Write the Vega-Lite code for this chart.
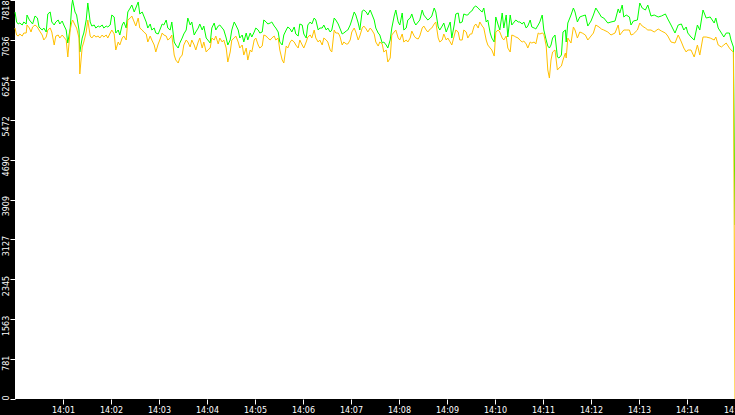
{
"$schema":"https://vega.github.io/schema/vega-lite/v6.json",
"width":720,"height":399,
"autosize":{"type":"none"},
"padding":{"left":15,"top":0,"right":0,"bottom":16},
"background":"#000000",
"view":{"fill":"#ffffff","stroke":null},
"config":{"axis":{"labelFont":"DejaVu Sans","labelFontSize":8,"labelColor":"#ffffff","tickColor":"#ffffff","domain":false,"grid":false,"title":null,"labelOverlap":false,"labelFlush":false,"labelBound":false}},
"data":{"values":[
{"t":0,"g":7583,"o":7269},{"t":2,"g":7387,"o":7132},{"t":4,"g":7348,"o":7112},{"t":6,"g":7367,"o":7152},{"t":9,"g":7328,"o":7112},{"t":11,"g":7387,"o":7171},{"t":14,"g":7348,"o":7171},{"t":15,"g":7524,"o":7328},{"t":18,"g":7426,"o":7269},{"t":20,"g":7387,"o":7191},{"t":22,"g":7348,"o":7289},{"t":25,"g":7504,"o":7328},{"t":28,"g":7465,"o":7289},{"t":30,"g":7289,"o":7230},{"t":34,"g":7230,"o":7132},{"t":36,"g":7269,"o":7034},{"t":39,"g":7191,"o":7093},{"t":41,"g":7544,"o":7230},{"t":44,"g":7583,"o":7269},{"t":46,"g":7387,"o":7191},{"t":49,"g":7328,"o":6936},{"t":51,"g":7387,"o":7112},{"t":54,"g":7426,"o":7132},{"t":56,"g":7348,"o":7073},{"t":59,"g":7406,"o":7132},{"t":61,"g":7328,"o":7093},{"t":64,"g":7230,"o":7034},{"t":66,"g":6975,"o":6701},{"t":69,"g":7269,"o":7230},{"t":71,"g":7720,"o":7387},{"t":72,"g":7818,"o":7426},{"t":75,"g":7583,"o":7328},{"t":77,"g":7524,"o":7269},{"t":80,"g":7230,"o":7073},{"t":81,"g":6799,"o":6368},{"t":84,"g":7073,"o":6897},{"t":86,"g":7171,"o":6995},{"t":89,"g":7426,"o":7191},{"t":91,"g":7759,"o":7426},{"t":94,"g":7387,"o":7112},{"t":96,"g":7308,"o":7073},{"t":99,"g":7328,"o":7132},{"t":101,"g":7269,"o":7093},{"t":104,"g":7308,"o":7112},{"t":106,"g":7289,"o":7073},{"t":109,"g":7328,"o":7132},{"t":111,"g":7269,"o":7093},{"t":114,"g":7308,"o":7132},{"t":116,"g":7289,"o":7073},{"t":119,"g":7328,"o":7171},{"t":121,"g":7524,"o":7230},{"t":124,"g":7485,"o":7152},{"t":126,"g":7171,"o":6838},{"t":129,"g":7230,"o":6995},{"t":131,"g":7132,"o":6936},{"t":134,"g":7328,"o":7073},{"t":136,"g":7387,"o":7112},{"t":139,"g":7269,"o":7034},{"t":141,"g":7583,"o":7426},{"t":144,"g":7661,"o":7465},{"t":146,"g":7720,"o":7504},{"t":149,"g":7583,"o":7387},{"t":151,"g":7661,"o":7308},{"t":154,"g":7779,"o":7465},{"t":156,"g":7544,"o":7269},{"t":159,"g":7583,"o":7230},{"t":161,"g":7504,"o":7191},{"t":164,"g":7387,"o":7152},{"t":166,"g":7269,"o":6995},{"t":169,"g":7348,"o":7112},{"t":171,"g":7230,"o":7034},{"t":174,"g":7269,"o":6936},{"t":176,"g":7171,"o":6799},{"t":179,"g":7152,"o":6956},{"t":181,"g":7230,"o":7034},{"t":184,"g":7348,"o":7171},{"t":186,"g":7328,"o":7132},{"t":189,"g":7426,"o":7112},{"t":191,"g":7269,"o":7034},{"t":194,"g":7230,"o":7073},{"t":196,"g":7387,"o":7132},{"t":199,"g":6995,"o":6740},{"t":201,"g":6936,"o":6642},{"t":204,"g":6877,"o":6583},{"t":206,"g":6975,"o":6681},{"t":209,"g":7073,"o":6740},{"t":211,"g":7152,"o":6936},{"t":214,"g":7230,"o":7034},{"t":216,"g":7465,"o":6995},{"t":219,"g":7328,"o":6897},{"t":221,"g":7387,"o":7034},{"t":224,"g":7132,"o":6936},{"t":226,"g":7191,"o":6838},{"t":229,"g":7269,"o":6995},{"t":231,"g":7348,"o":7073},{"t":234,"g":7230,"o":6877},{"t":236,"g":7308,"o":6995},{"t":239,"g":7073,"o":6799},{"t":241,"g":7034,"o":6838},{"t":244,"g":6975,"o":6877},{"t":246,"g":7269,"o":7073},{"t":249,"g":7367,"o":7034},{"t":251,"g":7230,"o":7112},{"t":254,"g":7308,"o":6956},{"t":256,"g":7328,"o":7073},{"t":259,"g":7269,"o":6995},{"t":261,"g":7230,"o":7034},{"t":264,"g":7073,"o":6877},{"t":266,"g":6936,"o":6603},{"t":269,"g":7034,"o":6799},{"t":271,"g":7230,"o":7034},{"t":274,"g":7387,"o":7073},{"t":276,"g":7328,"o":7112},{"t":279,"g":7230,"o":6995},{"t":281,"g":7073,"o":6877},{"t":284,"g":7132,"o":6936},{"t":286,"g":6995,"o":6740},{"t":289,"g":7171,"o":6877},{"t":291,"g":7034,"o":6642},
{"t":294,"g":7171,"o":6838},{"t":296,"g":7093,"o":6799},{"t":299,"g":7191,"o":7034},{"t":301,"g":7269,"o":7073},{"t":304,"g":7230,"o":6936},{"t":306,"g":7171,"o":6877},{"t":309,"g":7191,"o":6916},{"t":311,"g":7426,"o":7132},{"t":314,"g":7387,"o":7112},{"t":316,"g":7348,"o":7073},{"t":319,"g":7367,"o":7034},{"t":321,"g":7387,"o":7073},{"t":324,"g":7308,"o":7112},{"t":326,"g":7269,"o":7034},{"t":329,"g":7191,"o":7073},{"t":331,"g":6995,"o":6838},{"t":334,"g":6936,"o":6642},{"t":336,"g":7132,"o":6583},{"t":339,"g":7230,"o":6916},{"t":341,"g":7289,"o":6877},{"t":344,"g":7250,"o":6995},{"t":346,"g":7191,"o":7034},{"t":349,"g":7289,"o":6995},{"t":351,"g":7152,"o":6936},{"t":354,"g":7112,"o":6877},{"t":356,"g":7348,"o":7034},{"t":359,"g":7328,"o":6936},{"t":361,"g":7152,"o":6877},{"t":364,"g":7073,"o":6995},{"t":366,"g":7328,"o":7093},{"t":369,"g":7387,"o":7132},{"t":371,"g":7348,"o":7073},{"t":374,"g":7465,"o":7230},{"t":376,"g":7426,"o":7073},{"t":379,"g":7230,"o":6995},{"t":381,"g":7269,"o":7034},{"t":384,"g":7269,"o":6936},{"t":386,"g":7328,"o":7073},{"t":389,"g":7230,"o":7034},{"t":391,"g":7269,"o":6995},{"t":394,"g":7191,"o":6838},{"t":396,"g":7230,"o":6799},{"t":399,"g":7465,"o":7230},{"t":401,"g":7426,"o":7171},{"t":404,"g":7348,"o":7171},{"t":406,"g":7269,"o":7112},{"t":409,"g":7152,"o":6936},{"t":411,"g":7171,"o":6995},{"t":414,"g":7210,"o":6956},{"t":416,"g":7230,"o":6956},{"t":419,"g":7328,"o":7034},{"t":421,"g":7426,"o":7191},{"t":424,"g":7583,"o":7269},
{"t":426,"g":7524,"o":7191},{"t":429,"g":7367,"o":7034},{"t":431,"g":7230,"o":7112},{"t":434,"g":7602,"o":7269},{"t":436,"g":7622,"o":7308},{"t":439,"g":7583,"o":7250},{"t":441,"g":7524,"o":7191},{"t":444,"g":7622,"o":7269},{"t":446,"g":7544,"o":7230},{"t":449,"g":7426,"o":7152},{"t":451,"g":7269,"o":6995},{"t":454,"g":7171,"o":6916},{"t":456,"g":7132,"o":6995},{"t":459,"g":6975,"o":6956},{"t":461,"g":6995,"o":6799},{"t":464,"g":6936,"o":6838},{"t":466,"g":6877,"o":6603},{"t":469,"g":7034,"o":6681},{"t":471,"g":7269,"o":7132},{"t":474,"g":7504,"o":7191},{"t":476,"g":7622,"o":7230},{"t":479,"g":7387,"o":7073},{"t":481,"g":7328,"o":7034},{"t":484,"g":7563,"o":7152},{"t":486,"g":7230,"o":6995},{"t":489,"g":7269,"o":7034},{"t":491,"g":7426,"o":6995},{"t":494,"g":7465,"o":7073},{"t":496,"g":7544,"o":7210},{"t":499,"g":7387,"o":7112},{"t":501,"g":7328,"o":7073},{"t":504,"g":7387,"o":7054},{"t":506,"g":7426,"o":7112},{"t":509,"g":7622,"o":7269},{"t":511,"g":7524,"o":7308},{"t":514,"g":7465,"o":7230},{"t":516,"g":7426,"o":7191},{"t":519,"g":7465,"o":7250},{"t":521,"g":7504,"o":7269},{"t":524,"g":7661,"o":7348},{"t":526,"g":7583,"o":7387},{"t":529,"g":7289,"o":7073},{"t":531,"g":7230,"o":6995},{"t":534,"g":7308,"o":7034},{"t":536,"g":7367,"o":7152},{"t":539,"g":7191,"o":7034},{"t":541,"g":7269,"o":7073},{"t":544,"g":7387,"o":6995},{"t":546,"g":7073,"o":6936},{"t":549,"g":7328,"o":7112},{"t":551,"g":7544,"o":7230},{"t":554,"g":7563,"o":7191},
{"t":556,"g":7367,"o":7034},{"t":559,"g":7387,"o":7034},{"t":561,"g":7544,"o":7230},{"t":564,"g":7524,"o":7191},{"t":566,"g":7524,"o":7073},{"t":569,"g":7583,"o":7152},{"t":571,"g":7602,"o":7152},{"t":574,"g":7681,"o":7308},{"t":576,"g":7700,"o":7348},{"t":579,"g":7661,"o":7269},{"t":581,"g":7622,"o":7387},{"t":584,"g":7583,"o":7308},{"t":586,"g":7661,"o":7269},{"t":589,"g":7387,"o":7034},{"t":591,"g":7426,"o":6936},{"t":594,"g":7171,"o":6877},{"t":596,"g":7073,"o":6838},{"t":599,"g":6995,"o":6720},{"t":601,"g":7485,"o":7191},{"t":604,"g":7328,"o":7230},{"t":606,"g":7230,"o":7191},{"t":609,"g":7563,"o":7073},{"t":611,"g":7269,"o":7034},{"t":614,"g":7524,"o":7112},{"t":616,"g":7093,"o":6877},{"t":619,"g":7524,"o":6799},{"t":621,"g":7328,"o":7132},{"t":624,"g":7387,"o":7112},{"t":626,"g":7426,"o":7093},{"t":629,"g":7387,"o":7073},{"t":631,"g":7387,"o":7034},{"t":634,"g":7348,"o":6995},{"t":636,"g":7387,"o":7014},{"t":639,"g":7269,"o":6956},{"t":641,"g":7308,"o":6877},{"t":644,"g":7426,"o":6995},{"t":646,"g":7289,"o":6975},{"t":649,"g":7269,"o":6995},{"t":651,"g":7250,"o":6956},{"t":654,"g":7328,"o":7171},{"t":656,"g":7387,"o":7152},{"t":659,"g":7524,"o":7171},{"t":661,"g":7230,"o":7152},{"t":664,"g":7034,"o":6916},{"t":666,"g":6916,"o":6446},{"t":668,"g":6877,"o":6289},{"t":670,"g":6936,"o":6642},{"t":672,"g":7073,"o":6799},{"t":675,"g":7132,"o":6838},{"t":678,"g":6701,"o":6446},{"t":680,"g":6681,"o":6485},{"t":683,"g":6740,"o":6524},{"t":685,"g":7191,"o":6642},{"t":688,"g":7230,"o":6779},
{"t":689,"g":6995,"o":6681},{"t":691,"g":7367,"o":7073},{"t":695,"g":7524,"o":6975},{"t":698,"g":7661,"o":7289},{"t":700,"g":7583,"o":7230},{"t":703,"g":7387,"o":7073},{"t":706,"g":7485,"o":7191},{"t":709,"g":7504,"o":7171},{"t":713,"g":7524,"o":7132},{"t":716,"g":7308,"o":7034},{"t":720,"g":7406,"o":7112},{"t":723,"g":7524,"o":7171},{"t":726,"g":7661,"o":7328},{"t":730,"g":7563,"o":7289},{"t":733,"g":7485,"o":7250},{"t":736,"g":7465,"o":7230},{"t":741,"g":7367,"o":7191},{"t":745,"g":7387,"o":7132},{"t":750,"g":7406,"o":7171},{"t":754,"g":7642,"o":7328},{"t":756,"g":7563,"o":7132},{"t":759,"g":7720,"o":7191},{"t":761,"g":7485,"o":7230},{"t":764,"g":7524,"o":7230},{"t":768,"g":7485,"o":7230},{"t":770,"g":7328,"o":7132},{"t":773,"g":7406,"o":7152},{"t":778,"g":7426,"o":7230},{"t":781,"g":7759,"o":7367},{"t":784,"g":7661,"o":7308},{"t":788,"g":7622,"o":7269},{"t":791,"g":7720,"o":7230},{"t":795,"g":7504,"o":7230},{"t":799,"g":7524,"o":7191},{"t":804,"g":7485,"o":7250},{"t":808,"g":7504,"o":7210},{"t":813,"g":7544,"o":7171},{"t":816,"g":7446,"o":7112},{"t":820,"g":7328,"o":6995},{"t":825,"g":7171,"o":6975},{"t":829,"g":7328,"o":7132},{"t":833,"g":7348,"o":6995},{"t":836,"g":7230,"o":6877},{"t":839,"g":7289,"o":6799},{"t":841,"g":7171,"o":6838},{"t":845,"g":7093,"o":6838},{"t":849,"g":7034,"o":6701},{"t":853,"g":7328,"o":6936},{"t":856,"g":7230,"o":6740},{"t":860,"g":7622,"o":7093},{"t":864,"g":7465,"o":7093},{"t":869,"g":7485,"o":7073},{"t":874,"g":7367,"o":7034},{"t":876,"g":7465,"o":7093},{"t":879,"g":7269,"o":6936},{"t":883,"g":7171,"o":6897},{"t":886,"g":7093,"o":6936},{"t":889,"g":7171,"o":6975},{"t":893,"g":7171,"o":6877},{"t":895,"g":7034,"o":6838},{"t":898,"g":6897,"o":6799},{"t":900,"g":3410,"o":0}
]},
"transform":[{"fold":["g","o"],"as":["series","value"]}],
"mark":{"type":"line","strokeWidth":1},
"encoding":{
"x":{"field":"t","type":"quantitative","scale":{"domain":[0,900],"nice":false,"zero":false},
"axis":{"values":[60,120,180,240,300,360,420,480,540,600,660,720,780,840,900],"labelExpr":"'14:' + (datum.value < 600 ? '0' : '') + (datum.value/60)","tickSize":5,"labelPadding":2}},
"y":{"field":"value","type":"quantitative","scale":{"domain":[0,7818],"nice":false,"zero":true},
"axis":{"values":[0,781.8,1563.6,2345.4,3127.2,3909,4690.8,5472.6,6254.4,7036.2,7818],"labelExpr":"floor(datum.value)","labelAngle":270,"labelAlign":"right","labelBaseline":"bottom","tickSize":5,"labelPadding":0,"labelOffset":{"condition":{"test":"datum.value >= 7818","value":0},"value":-4}}},
"color":{"field":"series","type":"nominal","scale":{"domain":["g","o"],"range":["#00ff00","#ffc000"]},"legend":null},
"order":{"field":"t","type":"quantitative"}
}
}
